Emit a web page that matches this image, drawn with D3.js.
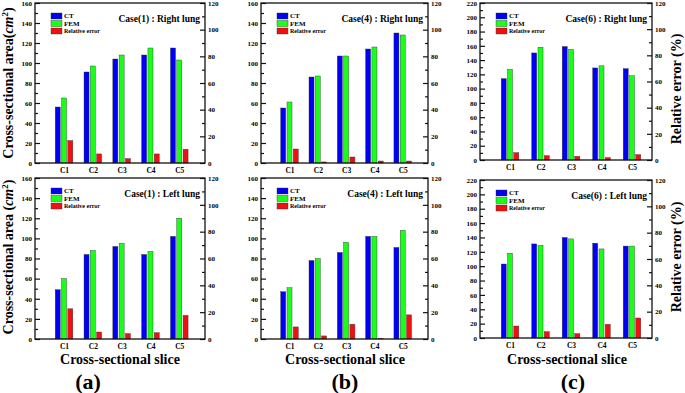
<!DOCTYPE html>
<html>
<head>
<meta charset="utf-8">
<script src="https://cdn.jsdelivr.net/npm/d3@7"></script>
<style>
  body { margin: 0; background: #fff; }
  svg { display: block; }
  svg text { font-family: "Liberation Serif", "DejaVu Serif", "Times New Roman", Times, serif !important; font-weight: bold; fill: #000; }
</style>
</head>
<body>
<div id="chart"></div>
<script>
// Daten
const slices = ["C1", "C2", "C3", "C4", "C5"];
const seriesNames = ["CT", "FEM", "Relative error"];

const areaTicks160 = [0, 20, 40, 60, 80, 100, 120, 140, 160];
const areaTicks220 = [0, 20, 40, 60, 80, 100, 120, 140, 160, 180, 200, 220];
const errorTicks = [0, 20, 40, 60, 80, 100, 120];

const case1RightCT  = [56, 91, 104, 108, 115];
const case1RightFEM = [65, 97, 108, 115, 103];
const case1RightErr = [16.8, 6.8, 3.3, 6.8, 10.3];

const case1LeftCT  = [49, 84, 92, 84, 102];
const case1LeftFEM = [60, 88, 95, 87, 120];
const case1LeftErr = [22.5, 5.2, 4.0, 4.7, 17.6];

const case4RightCT  = [55, 86, 107, 114, 130];
const case4RightFEM = [61, 87, 107, 116, 128];
const case4RightErr = [10.5, 0.8, 4.5, 1.5, 1.5];

const case4LeftCT  = [47, 78, 86, 102, 91];
const case4LeftFEM = [51, 80, 96, 102, 108];
const case4LeftErr = [9.0, 2.3, 11.0, 0.5, 18.0];

const case6RightCT  = [114, 150, 159, 129, 128];
const case6RightFEM = [127, 158, 155, 132, 118];
const case6RightErr = [5.6, 3.3, 2.8, 1.8, 4.1];

const case6LeftCT  = [103, 131, 140, 132, 128];
const case6LeftFEM = [118, 129, 138, 124, 128];
const case6LeftErr = [9.1, 4.8, 3.3, 10.4, 15.2];

// Farben
const cCT  = "#0000f5";
const cFEM = "#1aff1a";
const cErr = "#f01010";
const FONT = '"Liberation Serif", "DejaVu Serif", "Times New Roman", serif';

const W = 685, H = 393;
const svg = d3.select("#chart").append("svg").attr("width", W).attr("height", H)
  .attr("font-family", FONT);
svg.append("rect").attr("width", W).attr("height", H).attr("fill", "#fff");

// Panel-Layout
const panels = [
  { title: "Case(1) : Right lung", ct: case1RightCT, fem: case1RightFEM, err: case1RightErr,
    ticks: areaTicks160, x0: 35, x1: 205, y0: 3, y1: 163, pad: 0.95, align: 0.53 },
  { title: "Case(1) : Left lung", ct: case1LeftCT, fem: case1LeftFEM, err: case1LeftErr,
    ticks: areaTicks160, x0: 35, x1: 205, y0: 178, y1: 339, pad: 0.95, align: 0.53 },
  { title: "Case(4) : Right lung", ct: case4RightCT, fem: case4RightFEM, err: case4RightErr,
    ticks: areaTicks160, x0: 261, x1: 428, y0: 3, y1: 163, pad: 0.95, align: 0.53 },
  { title: "Case(4) : Left lung", ct: case4LeftCT, fem: case4LeftFEM, err: case4LeftErr,
    ticks: areaTicks160, x0: 261, x1: 428, y0: 178, y1: 339, pad: 0.95, align: 0.53 },
  { title: "Case(6) : Right lung", ct: case6RightCT, fem: case6RightFEM, err: case6RightErr,
    ticks: areaTicks220, x0: 480, x1: 652, y0: 3, y1: 160, pad: 0.82, align: 0.6 },
  { title: "Case(6) : Left lung", ct: case6LeftCT, fem: case6LeftFEM, err: case6LeftErr,
    ticks: areaTicks220, x0: 480, x1: 652, y0: 180, y1: 338, pad: 0.82, align: 0.6 }
];

const inner = d3.scaleBand().domain(seriesNames).range([-8.8, 8.8]).paddingInner(0.2);

panels.forEach(p => {
  const g = svg.append("g");
  const maxA = p.ticks[p.ticks.length - 1];
  const x = d3.scalePoint().domain(slices).range([p.x0, p.x1]).padding(p.pad).align(p.align);
  const yA = d3.scaleLinear().domain([0, maxA]).range([p.y1, p.y0]);
  const yE = d3.scaleLinear().domain([0, errorTicks[errorTicks.length - 1]]).range([p.y1, p.y0]);

  // Balken
  const rows = slices.map((s, i) => ({ s, ct: p.ct[i], fem: p.fem[i], err: p.err[i] }));
  const bar = (key, name, scale, color) => g.append("g").selectAll("rect").data(rows).join("rect")
    .attr("x", d => x(d.s) + inner(name))
    .attr("width", inner.bandwidth())
    .attr("y", d => scale(d[key]))
    .attr("height", d => scale(0) - scale(d[key]))
    .attr("fill", color)
    .attr("stroke", "#333")
    .attr("stroke-width", 0.4);
  bar("ct", "CT", yA, cCT);
  bar("fem", "FEM", yA, cFEM);
  bar("err", "Relative error", yE, cErr);

  // Achsen links
  const minorA = d3.range(10, maxA, 20);
  g.append("g").attr("transform", `translate(${p.x0},0)`)
    .call(d3.axisLeft(yA).tickValues(p.ticks).tickSize(-5).tickPadding(3));
  g.append("g").attr("transform", `translate(${p.x0},0)`)
    .call(d3.axisLeft(yA).tickValues(minorA).tickSize(-3).tickFormat(""));
  // rechts
  g.append("g").attr("transform", `translate(${p.x1},0)`)
    .call(d3.axisRight(yE).tickValues(errorTicks).tickSize(-5).tickPadding(3));
  g.append("g").attr("transform", `translate(${p.x1},0)`)
    .call(d3.axisRight(yE).tickValues(d3.range(10, 120, 20)).tickSize(-3).tickFormat(""));
  // unten
  const gb = g.append("g").attr("transform", `translate(0,${p.y1})`)
    .call(d3.axisBottom(x).tickSize(0).tickPadding(5));

  g.selectAll(".domain").remove();
  g.selectAll("g").attr("font-family", FONT).attr("font-size", null);
  g.selectAll(".tick line").attr("stroke", "#111").attr("stroke-width", 1.2);
  g.selectAll(".tick text").style("font-size", "7px");
  gb.selectAll(".tick text").style("font-size", "7.5px");

  g.append("rect")
    .attr("x", p.x0).attr("y", p.y0)
    .attr("width", p.x1 - p.x0).attr("height", p.y1 - p.y0)
    .attr("fill", "none").attr("stroke", "#111").attr("stroke-width", 1.3);

  // Titel
  g.append("text")
    .attr("x", p.x1 - 5).attr("y", p.y0 + 19)
    .attr("text-anchor", "end")
    .style("font-size", "9.5px")
    .text(p.title);

  // Legende
  const lg = g.append("g").attr("transform", `translate(${p.x0 + 16},${p.y0 + 10})`);
  [cCT, cFEM, cErr].forEach((c, i) => {
    lg.append("rect").attr("x", 0).attr("y", i * 7.5).attr("width", 11).attr("height", 6)
      .attr("fill", c).attr("stroke", "#333").attr("stroke-width", 0.4);
    lg.append("text").attr("x", 13).attr("y", i * 7.5 + 5.3)
      .style("font-size", i === 2 ? "6px" : "7px")
      .text(seriesNames[i]);
  });
});

// Achsentitel
function yTitle(cx, cy, parts) {
  const t = svg.append("text")
    .attr("transform", `translate(${cx},${cy}) rotate(-90)`)
    .attr("text-anchor", "middle")
    .style("font-size", "14px");
  parts.forEach(([s, style]) => {
    const ts = t.append("tspan").text(s);
    if (style === "i") ts.style("font-style", "italic");
    if (style === "sup") ts.attr("dy", -5).style("font-size", "9px");
    if (style === "back") ts.attr("dy", 5);
  });
}
yTitle(13, 83, [["Cross-sectional area("], ["cm", "i"], ["2", "sup"], [")", "back"]]);
yTitle(13, 257, [["Cross-sectional area ("], ["cm", "i"], ["2", "sup"], [")", "back"]]);
yTitle(681, 89, [["Relative error (%)"]]);
yTitle(681, 257, [["Relative error (%)"]]);

[[120, "(a)", 88], [345, "(b)", 345], [567, "(c)", 573]].forEach(([cx, lab, lx]) => {
  svg.append("text").attr("x", cx).attr("y", 364).attr("text-anchor", "middle")
    .style("font-size", "14px").text("Cross-sectional slice");
  svg.append("text").attr("x", lx).attr("y", 389).attr("text-anchor", "middle")
    .style("font-size", "22px").text(lab);
});
</script>
</body>
</html>
